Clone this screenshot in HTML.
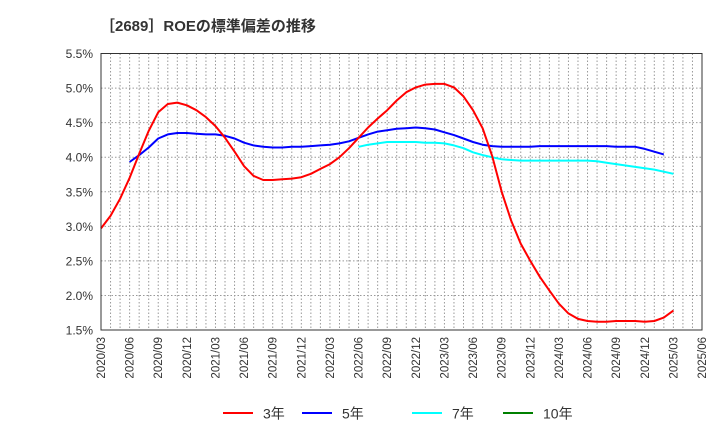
<!DOCTYPE html>
<html><head><meta charset="utf-8"><style>
body{margin:0;background:#fff;font-family:"Liberation Sans","Noto Sans CJK JP",sans-serif}
</style></head><body>
<svg width="720" height="440" xmlns="http://www.w3.org/2000/svg" font-family="Liberation Sans, Noto Sans CJK JP, sans-serif">
<text x="100" y="31" font-size="15" font-weight="bold" fill="#333">［2689］ROEの標準偏差の推移</text>
<g id="grid"></g><g id="series"></g><g id="axes"></g>
<g id="legend"></g>
</svg>
<script>
const ticks=["1.5%","2.0%","2.5%","3.0%","3.5%","4.0%","4.5%","5.0%","5.5%"];
const tickVals=[1.5,2.0,2.5,3.0,3.5,4.0,4.5,5.0,5.5];
const xLabels=["2020/03","2020/06","2020/09","2020/12","2021/03","2021/06","2021/09","2021/12","2022/03","2022/06","2022/09","2022/12","2023/03","2023/06","2023/09","2023/12","2024/03","2024/06","2024/09","2024/12","2025/03","2025/06"];
const s3=[2.97,3.15,3.4,3.7,4.05,4.38,4.65,4.77,4.79,4.75,4.68,4.58,4.45,4.28,4.08,3.87,3.73,3.67,3.67,3.68,3.69,3.71,3.76,3.83,3.9,4.0,4.13,4.28,4.43,4.56,4.68,4.82,4.94,5.01,5.05,5.06,5.06,5.01,4.88,4.68,4.42,4.02,3.5,3.08,2.75,2.5,2.27,2.07,1.88,1.74,1.66,1.63,1.62,1.62,1.63,1.63,1.63,1.62,1.63,1.68,1.78];
const s5Start=3;
const s5=[3.93,4.03,4.14,4.27,4.33,4.35,4.35,4.34,4.33,4.33,4.31,4.27,4.21,4.17,4.15,4.14,4.14,4.15,4.15,4.16,4.17,4.18,4.2,4.23,4.28,4.33,4.37,4.39,4.41,4.42,4.43,4.42,4.4,4.36,4.32,4.27,4.22,4.18,4.16,4.15,4.15,4.15,4.15,4.16,4.16,4.16,4.16,4.16,4.16,4.16,4.16,4.15,4.15,4.15,4.12,4.08,4.04];
const s7Start=27;
const s7=[4.15,4.18,4.2,4.22,4.22,4.22,4.22,4.21,4.21,4.2,4.17,4.13,4.07,4.03,4.0,3.97,3.96,3.95,3.95,3.95,3.95,3.95,3.95,3.95,3.95,3.94,3.92,3.9,3.88,3.86,3.84,3.82,3.79,3.76];
const NS="http://www.w3.org/2000/svg";
const L=101,R=702,T=53.5,B=330,months=63;
const x=i=>L+(R-L)*i/months;
const y=v=>B-(v-1.5)/4*(B-T);
function mk(tag,attrs,parent){const e=document.createElementNS(NS,tag);for(const k in attrs)e.setAttribute(k,attrs[k]);parent.appendChild(e);return e;}
const grid=document.getElementById('grid'),axes=document.getElementById('axes'),ser=document.getElementById('series'),leg=document.getElementById('legend');
for(let m=1;m<months;m++){const l=mk('line',{x1:x(m),x2:x(m),y1:T,y2:B,stroke:'#999','stroke-dasharray':'1.5,2','stroke-width':1},grid);

}
tickVals.forEach((v,i)=>{if(i>0&&i<8){const l=mk('line',{x1:L,x2:R,y1:y(v),y2:y(v),stroke:'#999','stroke-dasharray':'1.5,2'},grid);

}
const t=mk('text',{x:L-8,y:y(v)+4.5,'text-anchor':'end','font-size':12,fill:'#333'},axes);t.textContent=ticks[i];

});
xLabels.forEach((s,i)=>{const xx=x(i*3);const t=mk('text',{x:0,y:0,'text-anchor':'end','font-size':11.5,fill:'#333',transform:`translate(${xx+4},${B+7}) rotate(-90)`},axes);t.textContent=s;

});
const fr=mk('rect',{x:L,y:T,width:R-L,height:B-T,fill:'none',stroke:'#333','stroke-width':1},axes);


function line(arr,start,color,name){const p=arr.map((v,i)=>`${x(start+i).toFixed(1)},${y(v).toFixed(1)}`).join(' ');
const e=mk('polyline',{points:p,fill:'none',stroke:color,'stroke-width':2,'stroke-linejoin':'round'},ser);

}
line(s7,s7Start,'#00ffff','series-7y');
line(s5,s5Start,'#0000ff','series-5y');
line(s3,0,'#ff0000','series-3y');
const legs=[["3年","#ff0000",223],["5年","#0000ff",302],["7年","#00ffff",412],["10年","#008000",503]];
legs.forEach(([n,c,lx])=>{const g=mk('g',{},leg);


mk('line',{x1:lx,x2:lx+30,y1:413,y2:413,stroke:c,'stroke-width':2},g);
const t=mk('text',{x:lx+40,y:418.5,'font-size':14,fill:'#333'},g);t.textContent=n;});
</script>
</body></html>
